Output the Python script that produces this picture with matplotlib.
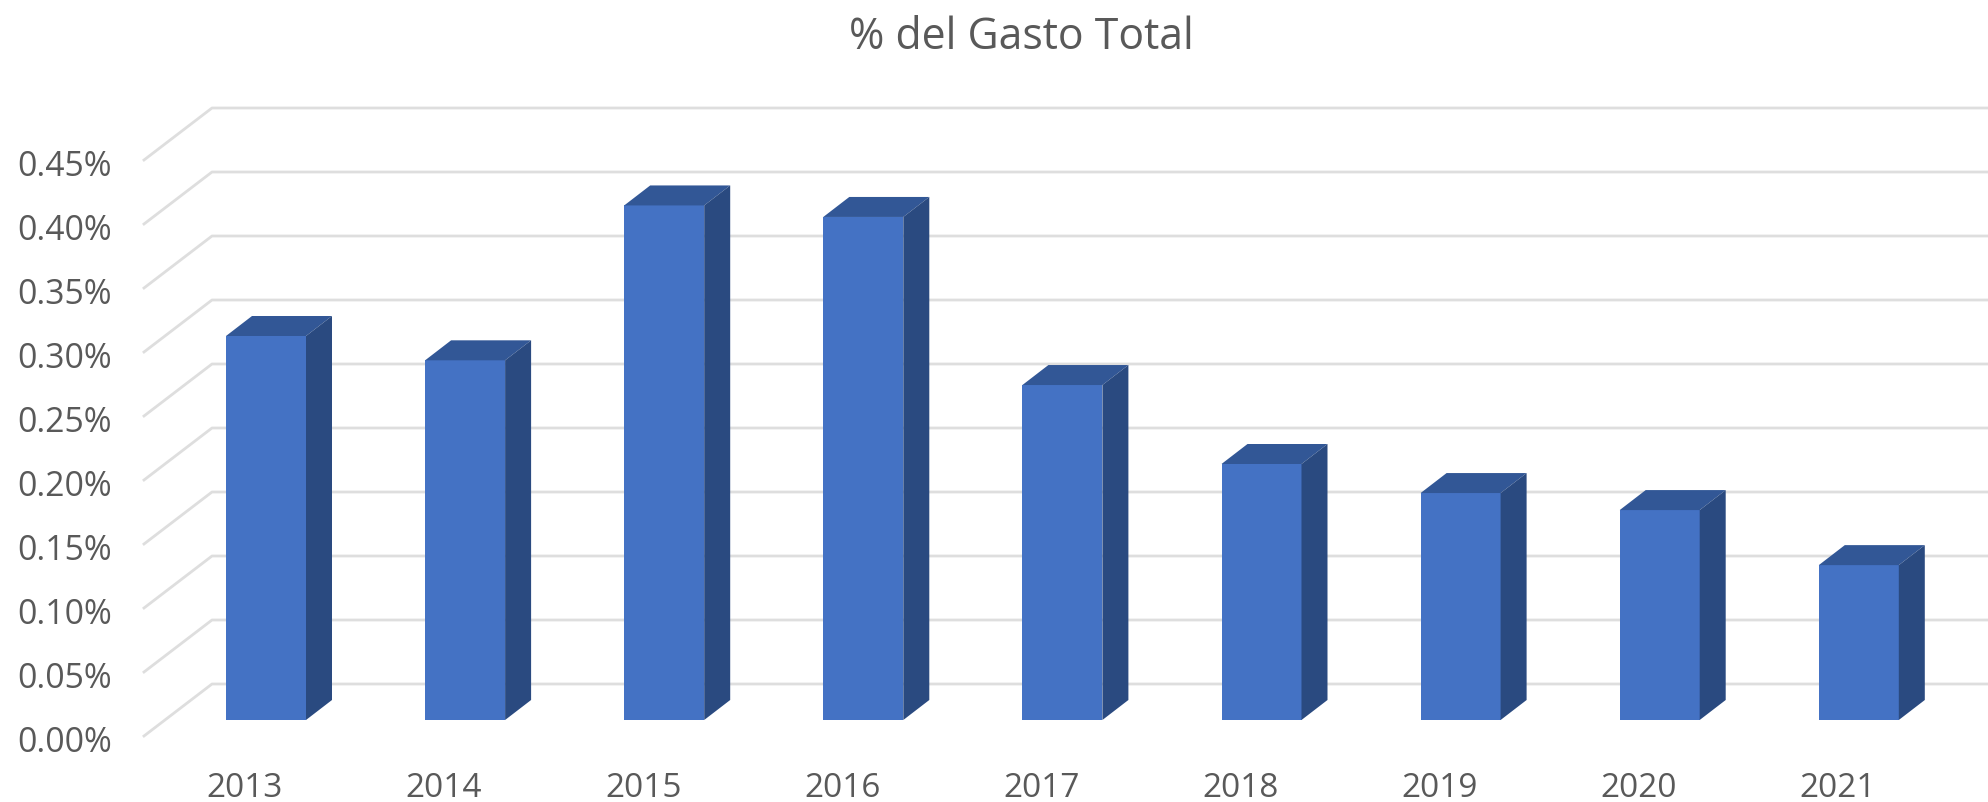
import matplotlib
matplotlib.use("Agg")
import matplotlib.pyplot as plt
from matplotlib.transforms import ScaledTranslation

years = ["2013", "2014", "2015", "2016", "2017", "2018", "2019", "2020", "2021"]
values = [0.300, 0.281, 0.402, 0.393, 0.2617, 0.200, 0.1773, 0.164, 0.121]
y_ticks = [0.00, 0.05, 0.10, 0.15, 0.20, 0.25, 0.30, 0.35, 0.40, 0.45]

W, H = 1988, 803
PX_X = 199.1   # pixels per category
PX_Y = 1280.0  # pixels per 1%
TEXT = "#595959"
GRID = "#DEDEDE"

plt.rcParams["font.family"] = ["Open Sans", "DejaVu Sans"]

fig = plt.figure(figsize=(W / 100, H / 100), dpi=100)
left, base = 144, 737
ax = fig.add_axes([left / W, (H - base) / H, 1 - left / W, base / H])
ax.set_xlim((left - 266) / PX_X, (W - 266) / PX_X)
ax.set_ylim(0, base / PX_Y)
for s in ax.spines.values():
    s.set_visible(False)

# wall + floor depth, all offsets from px measured on the picture
wall_dx, wall_dy = 68 / PX_X, 52 / PX_Y
x0 = ax.get_xlim()[0]
x1 = ax.get_xlim()[1]
for v in y_ticks:
    ax.plot([x0, x0 + wall_dx, x1], [v, v + wall_dy, v + wall_dy],
            color=GRID, lw=2, zorder=1, clip_on=False)

# bars
bw = 80 / PX_X
lift = 16 / PX_Y
dx, dy = 26 / PX_X, 20 / PX_Y
xs = list(range(len(years)))
ax.bar(xs, values, width=bw, bottom=lift, color="#4472C4", zorder=3, linewidth=0)
for x, v in zip(xs, values):
    l, r = x - bw / 2, x + bw / 2
    t = v + lift
    ax.fill([l, r, r + dx, l + dx], [t, t, t + dy, t + dy], color="#325796", lw=0, zorder=3)
    ax.fill([r, r + dx, r + dx, r], [lift, lift + dy, t + dy, t], color="#2A4A80", lw=0, zorder=3)

ax.set_yticks(y_ticks)
ax.set_yticklabels(["%.2f%%" % v for v in y_ticks])
ax.set_xticks([x - 21 / PX_X for x in xs])
ax.set_xticklabels(years)
ax.tick_params(axis="y", length=0, pad=23, labelsize=24.3, labelcolor=TEXT)
ax.tick_params(axis="x", length=0, pad=25, labelsize=24, labelcolor=TEXT)

# y labels sit a little under their gridline ends
down = ScaledTranslation(0, -2 / 100, fig.dpi_scale_trans)
for lab in ax.get_yticklabels():
    lab.set_transform(lab.get_transform() + down)

fig.suptitle("% del Gasto Total", x=1021 / W, y=1 - 38 / H, va="center",
             fontsize=30.8, color=TEXT)

fig.savefig("out.png", dpi=100)
